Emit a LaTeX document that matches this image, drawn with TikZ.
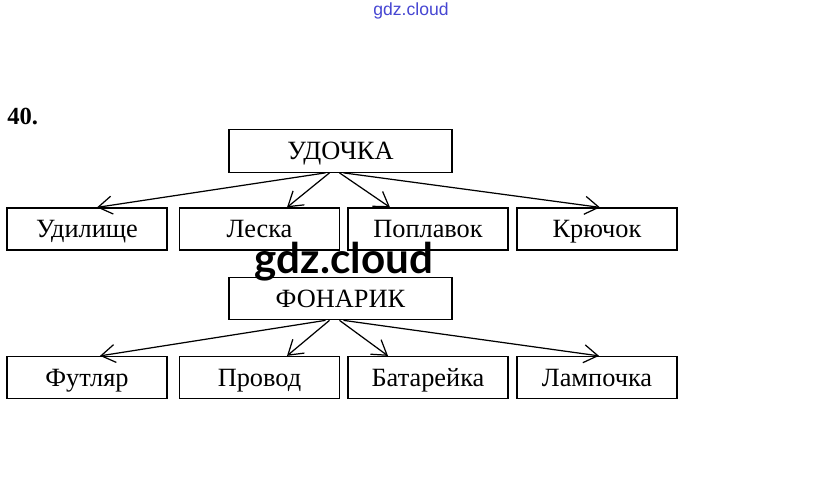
\documentclass[tikz,border=0pt]{standalone}
\usepackage{fontspec}
\setmainfont{Liberation Serif}
\newfontfamily\wmfont{Lato}
\newfontfamily\wmsmallfont{Liberation Sans}
\usepackage{xcolor}
\usepackage{tikz}
\usetikzlibrary{arrows.meta,positioning}

\definecolor{wmblue}{RGB}{70,70,210}
\tikzset{
  box/.style={draw, line width=0.7pt, minimum width=3.2cm, minimum height=0.84cm,
    inner sep=0pt, text height=11pt, text depth=1pt, font=\fontsize{15}{17}\selectfont},
  topbox/.style={box, minimum width=4.46cm, minimum height=0.85cm},
  arr/.style={-{Straight Barb[length=2.8mm,width=3.6mm]}, line width=0.7pt}
}

\begin{document}
\begin{tikzpicture}[x=0.02cm,y=-0.02cm]
    \useasboundingbox (0,0) rectangle (823,504);
    % watermarks
    \node[font=\wmsmallfont\fontsize{10}{12}\selectfont, text=wmblue] (wmtop) at (411,11) {gdz.cloud};
    \node[font=\fontsize{14}{16}\selectfont\bfseries, anchor=west, inner sep=0pt] (num) at (7,116) {40.};
    % first tree
    \node[topbox] (udochka) at (340.5,151) {УДОЧКА};
    \foreach \nm/\x/\txt in {udil/87/Удилище, leska/259.5/Леска, poplav/428/Поплавок, kruch/597/Крючок} {
      \node[box] (\nm) at (\x,229) {\txt};
    }
    \draw[arr] ([xshift=-0.30cm]udochka.south) -- ([xshift=0.20cm]udil.north);
    \draw[arr] ([xshift=-0.22cm]udochka.south) -- ([xshift=0.55cm]leska.north);
    \draw[arr] ([xshift=-0.02cm]udochka.south) -- ([xshift=-0.76cm]poplav.north);
    \draw[arr] ([xshift=0.06cm]udochka.south) -- ([xshift=0.06cm]kruch.north);
    % second tree
    \node[topbox] (fonarik) at (340.5,298.5) {ФОНАРИК};
    \foreach \nm/\x/\txt in {futlar/87/Футляр, provod/259.5/Провод, batar/428/Батарейка, lamp/597/Лампочка} {
      \node[box] (\nm) at (\x,377.5) {\txt};
    }
    \draw[arr] ([xshift=-0.30cm]fonarik.south) -- ([xshift=0.26cm]futlar.north);
    \draw[arr] ([xshift=-0.22cm]fonarik.south) -- ([xshift=0.55cm]provod.north);
    \draw[arr] ([xshift=-0.02cm]fonarik.south) -- ([xshift=-0.80cm]batar.north);
    \draw[arr] ([xshift=0.06cm]fonarik.south) -- ([xshift=0.04cm]lamp.north);
    \node[font=\wmfont\fontsize{24}{28}\selectfont\bfseries, inner sep=0pt] (wmbig) at (344,262) {gdz.cloud};
\end{tikzpicture}
\end{document}
